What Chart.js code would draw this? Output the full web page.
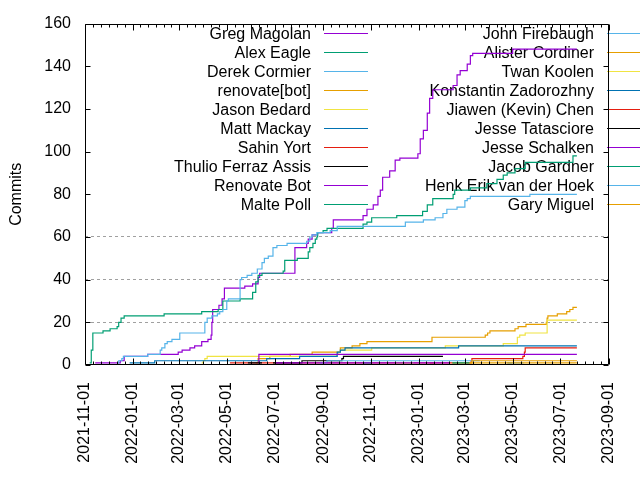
<!DOCTYPE html>
<html>
  <head>
    <title>Commits per author</title>
    <script src="https://cdn.jsdelivr.net/npm/chart.js"></script>
    <style>
      body { margin: 0; background: #fff; }
    </style>
  </head>
  <body>
    <canvas id="commits" width="640" height="480"></canvas>

    <script>
      // x = days since startDate, y = cumulative commits
      const startDate = "2021-11-01";
      const tickDates = ["2021-11-01", "2022-01-01", "2022-03-01", "2022-05-01", "2022-07-01", "2022-09-01",
        "2022-11-01", "2023-01-01", "2023-03-01", "2023-05-01", "2023-07-01", "2023-09-01"];
      const yTicks = [0, 20, 40, 60, 80, 100, 120, 140, 160];

      const authors = ["Greg Magolan", "Alex Eagle", "Derek Cormier", "renovate[bot]", "Jason Bedard",
        "Matt Mackay", "Sahin Yort", "Thulio Ferraz Assis", "Renovate Bot", "Malte Poll",
        "John Firebaugh", "Alister Cordiner", "Twan Koolen", "Konstantin Zadorozhny", "Jiawen (Kevin) Chen",
        "Jesse Tatasciore", "Jesse Schalken", "Jacob Gardner", "Henk Erik van der Hoek", "Gary Miguel"];

      const gregMagolan = [[13,1],[45,2],[50,4],[80,5],[119,6],[124,7],[134,8],[140,9],[149,11],[157,12],
        [161,14],[162,20],[163,26],[171,28],[175,31],[178,36],[204,37],[214,38],[221,41],[223,43],
        [268,55],[283,57],[285,59],[290,61],[297,62],[315,64],[317,68],[355,70],[360,73],[368,75],
        [374,79],[377,82],[380,88],[389,91],[396,96],[402,97],[425,99],[428,106],[432,110],[437,118],
        [440,125],[444,129],[470,131],[475,136],[479,138],[488,141],[492,145],[495,146],[546,148],[628,148]];
      const alexEagle = [[6,1],[8,7],[10,15],[23,16],[32,17],[41,18],[43,20],[46,22],[50,23],[101,24],
        [149,25],[170,26],[176,30],[198,31],[214,34],[218,39],[221,42],[226,43],[253,44],[255,49],
        [271,50],[285,53],[287,55],[291,57],[294,59],[296,60],[297,62],[304,63],[309,64],[355,66],
        [360,67],[366,69],[398,70],[431,72],[437,75],[444,78],[470,80],[472,82],[492,83],[513,85],
        [526,87],[534,89],[539,90],[549,92],[562,95],[623,98],[628,98]];
      const derekCormier = [[42,1],[43,2],[47,3],[49,4],[80,5],[96,7],[98,8],[102,10],[105,11],[111,12],
        [121,15],[153,20],[156,22],[162,23],[169,24],[172,25],[176,26],[181,30],[183,31],[198,40],
        [200,41],[207,42],[213,43],[220,45],[226,48],[229,50],[234,51],[240,55],[245,56],[258,57],
        [283,58],[287,60],[290,61],[296,62],[313,63],[322,65],[409,67],[432,68],[447,69],[457,71],
        [462,73],[475,74],[485,77],[488,78],[492,79],[568,80],[628,80]];
      const renovateBotApp = [[218,1],[221,3],[236,4],[262,5],[290,6],[326,8],[341,9],[351,10],[360,11],
        [443,13],[511,14],[514,15],[517,16],[549,17],[553,18],[563,19],[589,20],[590,22],[591,23],
        [603,24],[615,25],[619,26],[623,27],[628,27]];
      const jasonBedard = [[149,1],[151,2],[153,3],[156,4],[321,5],[323,6],[326,7],[366,8],[460,9],
        [534,10],[552,13],[555,14],[562,15],[590,21],[628,21]];
      const mattMackay = [[57,1],[89,2],[232,3],[274,4],[322,6],[326,7],[332,8],[477,9],[628,9]];
      const sahinYort = [[185,1],[493,2],[494,3],[559,4],[561,6],[562,8],[628,8]];
      const thulioFerrazAssis = [[240,1],[277,2],[328,3],[330,4],[457,4]];
      const renovateBot = [[221,1],[222,5],[628,5]];
      const maltePoll = [[355,1],[366,1]];
      const johnFirebaugh = [[300,1],[309,2],[504,2]];
      const alisterCordiner = [[469,1],[494,2],[628,2]];
      const twanKoolen = [[396,1],[420,1]];
      const konstantinZadorozhny = [[539,1],[545,1]];
      const jiawenChen = [[440,1],[446,1]];
      const jesseTatasciore = [[208,1],[226,1]];
      const jesseSchalken = [[243,1],[466,1]];
      const jacobGardner = [[469,1],[491,1]];
      const henkErikVanDerHoek = [[543,1],[560,1]];
      const garyMiguel = [[491,1],[628,1]];

      const series = [gregMagolan, alexEagle, derekCormier, renovateBotApp, jasonBedard, mattMackay,
        sahinYort, thulioFerrazAssis, renovateBot, maltePoll, johnFirebaugh, alisterCordiner, twanKoolen,
        konstantinZadorozhny, jiawenChen, jesseTatasciore, jesseSchalken, jacobGardner,
        henkErikVanDerHoek, garyMiguel];

      // gnuplot default line colours
      const palette = ["#9400d3", "#009e73", "#56b4e9", "#e69f00", "#f0e442", "#0072b2", "#e51e10", "#000000"];

      const font = "'Liberation Sans', Arial, sans-serif";
      Chart.defaults.font.family = font;
      Chart.defaults.font.size = 16;
      Chart.defaults.color = "#000";

      const dayOf = (d) => (Date.parse(d) - Date.parse(startDate)) / 86400000;
      const tickDays = tickDates.map(dayOf);

      // two-column key, text right aligned, sample line on its right
      function drawKey(chart) {
        const c = chart.ctx;
        c.save();
        c.font = "16px " + font;
        c.textAlign = "right";
        c.textBaseline = "alphabetic";
        chart.data.datasets.forEach((ds, i) => {
          const col = Math.floor(i / 10);
          const row = i % 10;
          const tx = 311 + col * 283;
          const ly = 33.5 + row * 19;
          c.fillStyle = "#000";
          c.fillText(ds.label, tx, ly + 5);
          c.strokeStyle = ds.borderColor;
          c.lineWidth = 1.2;
          c.beginPath();
          c.moveTo(tx + 13, ly);
          c.lineTo(tx + 57, ly);
          c.stroke();
        });
        c.restore();
      }

      const framePlugin = {
        id: "frame",
        beforeDatasetsDraw(chart) {
          drawKey(chart);
        },
        afterDatasetsDraw(chart) {
          const c = chart.ctx;
          const a = chart.chartArea;
          const x = chart.scales.x;
          const y = chart.scales.y;
          const L = Math.round(a.left) + 0.5;
          const R = Math.round(a.right) - 0.5;
          const T = Math.round(a.top) + 0.5;
          const B = Math.round(a.bottom) - 0.5;
          c.save();
          c.strokeStyle = "#000";
          c.lineWidth = 1;
          c.beginPath();
          c.rect(L, T, R - L, B - T);
          y.ticks.forEach((t) => {
            const py = Math.round(y.getPixelForValue(t.value)) + 0.5;
            c.moveTo(L, py); c.lineTo(L + 5, py);
            c.moveTo(R, py); c.lineTo(R - 5, py);
          });
          x.ticks.forEach((t, i) => {
            const px = Math.round(x.getPixelForValue(t.value)) + 0.5;
            c.moveTo(px, B); c.lineTo(px, B - 6);
            c.moveTo(px, T); c.lineTo(px, T + 6);
            if (i < x.ticks.length - 1) {
              const next = x.ticks[i + 1].value;
              for (let k = 1; k < 6; k++) {
                const v = t.value + (next - t.value) * k / 6;
                const mx = Math.round(x.getPixelForValue(v)) + 0.5;
                c.moveTo(mx, B); c.lineTo(mx, B - 3);
                c.moveTo(mx, T); c.lineTo(mx, T + 3);
              }
            }
          });
          c.stroke();
          c.restore();
        },
      };

      const datasets = authors.map((name, i) => ({
        label: name,
        data: series[i].map((p) => ({ x: p[0], y: p[1] })),
        borderColor: palette[i % palette.length],
        borderWidth: 1.2,
        stepped: true,
        pointRadius: 0,
        fill: false,
        order: -i,
      }));

      const ctx = document.getElementById("commits").getContext("2d");
      new Chart(ctx, {
        type: "line",
        data: { datasets: datasets },
        options: {
          responsive: false,
          animation: false,
          devicePixelRatio: 1,
          events: [],
          layout: { padding: { left: 0, right: 31, top: 20, bottom: 0 } },
          plugins: { legend: { display: false }, tooltip: { enabled: false } },
          scales: {
            x: {
              type: "linear",
              min: tickDays[0],
              max: tickDays[tickDays.length - 1],
              afterBuildTicks: (scale) => {
                scale.ticks = tickDays.map((v) => ({ value: v }));
              },
              afterFit: (scale) => { scale.height = 115; },
              ticks: {
                autoSkip: false,
                minRotation: 90,
                maxRotation: 90,
                padding: 9,
                callback: (v, i) => tickDates[i],
              },
              grid: { display: false },
              border: { display: false },
            },
            y: {
              min: yTicks[0],
              max: yTicks[yTicks.length - 1],
              afterBuildTicks: (scale) => {
                scale.ticks = yTicks.map((v) => ({ value: v }));
              },
              afterFit: (scale) => { scale.width = 85; },
              ticks: { padding: 14 },
              grid: {
                drawTicks: false,
                lineWidth: 1,
                color: (c) => (c.tick && [20, 40, 60].includes(c.tick.value) ? "#a0a0a0" : "rgba(0,0,0,0)"),
              },
              border: { display: false, dash: [3, 3] },
              title: { display: true, text: "Commits", padding: { top: 7, bottom: 0 } },
            },
          },
        },
        plugins: [framePlugin],
      });
    </script>
  </body>
</html>
